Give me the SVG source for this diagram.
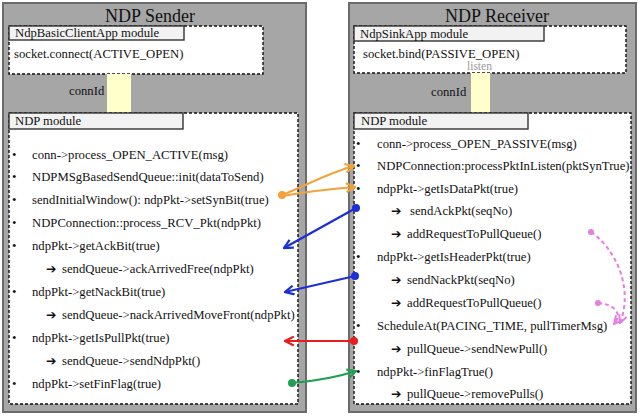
<svg xmlns="http://www.w3.org/2000/svg" width="640" height="419" viewBox="0 0 640 419">
<style>
.panel{fill:#a6a6a6;stroke:#6b6b6b;stroke-width:2}
.box{fill:#ffffff;stroke:#111;stroke-width:1.4;stroke-dasharray:3,2}
.tab{fill:#f2f2f2;stroke:#333;stroke-width:1.4}
.bar{fill:#ffffcc}
.t{font-family:"Liberation Serif","Times New Roman",serif;font-size:12.7px;fill:#111}
.h{font-family:"Liberation Serif","Times New Roman",serif;font-size:18px;fill:#111}
.ls{font-family:"Liberation Serif","Times New Roman",serif;font-size:11.5px;fill:#999}
.ar{font-family:"DejaVu Sans",sans-serif;font-size:12.5px;font-weight:bold;fill:#111}
.c{fill:none;stroke-width:2.2}
.pk{fill:none;stroke:#e57ee5;stroke-width:2;stroke-dasharray:4,3}
</style>
<defs>
<marker id="aO" viewBox="0 0 10 10" refX="9" refY="5" markerWidth="5" markerHeight="5" orient="auto" markerUnits="strokeWidth"><path d="M1,1 L9,5 L1,9" fill="none" stroke="#f2a23a" stroke-width="2"/></marker>
<marker id="aB" viewBox="0 0 10 10" refX="9" refY="5" markerWidth="5" markerHeight="5" orient="auto" markerUnits="strokeWidth"><path d="M1,1 L9,5 L1,9" fill="none" stroke="#1c2fd6" stroke-width="2"/></marker>
<marker id="aR" viewBox="0 0 10 10" refX="9" refY="5" markerWidth="5" markerHeight="5" orient="auto" markerUnits="strokeWidth"><path d="M1,1 L9,5 L1,9" fill="none" stroke="#ea1c1c" stroke-width="2"/></marker>
<marker id="aG" viewBox="0 0 10 10" refX="9" refY="5" markerWidth="5" markerHeight="5" orient="auto" markerUnits="strokeWidth"><path d="M1,1 L9,5 L1,9" fill="none" stroke="#1fa052" stroke-width="2"/></marker>
<marker id="aP" viewBox="0 0 10 10" refX="9" refY="5" markerWidth="5" markerHeight="5" orient="auto" markerUnits="strokeWidth"><path d="M1,1 L9,5 L1,9" fill="none" stroke="#e57ee5" stroke-width="2"/></marker>
</defs>

<g id="sender">
<rect class="panel" x="3" y="3" width="303" height="409"/>
<text class="h" x="150" y="22" text-anchor="middle">NDP Sender</text>
</g>
<g id="receiver">
<rect class="panel" x="349" y="3" width="287" height="409"/>
<text class="h" x="497" y="22" text-anchor="middle">NDP Receiver</text>
</g>

<g id="sender-app">
<rect class="box" x="9" y="26" width="254" height="48"/>
<rect class="tab" x="9" y="26" width="175" height="14"/>
<text class="t" x="15" y="37">NdpBasicClientApp module</text>
<text class="t" x="14" y="58">socket.connect(ACTIVE_OPEN)</text>
</g>
<g id="receiver-app">
<rect class="box" x="354" y="26" width="272" height="47"/>
<rect class="tab" x="354" y="26" width="190" height="15"/>
<text class="t" x="360" y="38">NdpSinkApp module</text>
<text class="t" x="363" y="58">socket.bind(PASSIVE_OPEN)</text>
<text class="ls" x="467" y="70">listen</text>
</g>

<g id="sender-connid">
<rect class="bar" x="107" y="74" width="24" height="39"/>
<text class="t" x="69" y="95">connId</text>
</g>
<g id="receiver-connid">
<rect class="bar" x="471" y="73" width="19" height="40"/>
<text class="t" x="431" y="96">connId</text>
</g>

<g id="sender-ndp">
<rect class="box" x="9" y="113" width="289" height="291"/>
<rect class="tab" x="9" y="113" width="174" height="16"/>
<text class="t" x="15" y="125">NDP module</text>
<text class="t" x="12" y="159">•</text><text class="t" x="32" y="159">conn-&gt;process_OPEN_ACTIVE(msg)</text>
<text class="t" x="12" y="181">•</text><text class="t" x="32" y="181">NDPMSgBasedSendQueue::init(dataToSend)</text>
<text class="t" x="12" y="204">•</text><text class="t" x="32" y="204">sendInitialWindow(): ndpPkt-&gt;setSynBit(true)</text>
<text class="t" x="12" y="227">•</text><text class="t" x="32" y="227">NDPConnection::process_RCV_Pkt(ndpPkt)</text>
<text class="t" x="12" y="250">•</text><text class="t" x="32" y="250">ndpPkt-&gt;getAckBit(true)</text>
<text class="ar" x="46" y="273">➔</text><text class="t" x="62" y="273">sendQueue-&gt;ackArrivedFree(ndpPkt)</text>
<text class="t" x="12" y="296">•</text><text class="t" x="32" y="296">ndpPkt-&gt;getNackBit(true)</text>
<text class="ar" x="46" y="319">➔</text><text class="t" x="62" y="319">sendQueue-&gt;nackArrivedMoveFront(ndpPkt)</text>
<text class="t" x="12" y="342">•</text><text class="t" x="32" y="342">ndpPkt-&gt;getIsPullPkt(true)</text>
<text class="ar" x="46" y="365">➔</text><text class="t" x="62" y="365">sendQueue-&gt;sendNdpPkt()</text>
<text class="t" x="12" y="388">•</text><text class="t" x="32" y="388">ndpPkt-&gt;setFinFlag(true)</text>
</g>

<g id="receiver-ndp">
<rect class="box" x="354" y="113" width="277" height="291"/>
<rect class="tab" x="354" y="113" width="174" height="16"/>
<text class="t" x="361" y="125">NDP module</text>
<text class="t" x="356" y="148">•</text><text class="t" x="377" y="148">conn-&gt;process_OPEN_PASSIVE(msg)</text>
<text class="t" x="356" y="170">•</text><text class="t" x="377" y="170">NDPConnection:processPktInListen(pktSynTrue)</text>
<text class="t" x="356" y="193">•</text><text class="t" x="377" y="193">ndpPkt-&gt;getIsDataPkt(true)</text>
<text class="ar" x="391" y="215">➔</text><text class="t" x="410" y="215">sendAckPkt(seqNo)</text>
<text class="ar" x="391" y="238">➔</text><text class="t" x="407" y="238">addRequestToPullQueue()</text>
<text class="t" x="356" y="261">•</text><text class="t" x="377" y="261">ndpPkt-&gt;getIsHeaderPkt(true)</text>
<text class="ar" x="391" y="284">➔</text><text class="t" x="407" y="284">sendNackPkt(seqNo)</text>
<text class="ar" x="391" y="307">➔</text><text class="t" x="407" y="307">addRequestToPullQueue()</text>
<text class="t" x="356" y="330">•</text><text class="t" x="377" y="330">ScheduleAt(PACING_TIME, pullTimerMsg)</text>
<text class="ar" x="391" y="353">➔</text><text class="t" x="407" y="353">pullQueue-&gt;sendNewPull()</text>
<text class="t" x="356" y="376">•</text><text class="t" x="377" y="376">ndpPkt-&gt;finFlagTrue()</text>
<text class="ar" x="391" y="398">➔</text><text class="t" x="407" y="398">pullQueue-&gt;removePulls()</text>
</g>

<g id="connectors">
<path class="c" stroke="#f2a23a" d="M282,195 C305,186 328,173 354,166" marker-end="url(#aO)"/>
<path class="c" stroke="#f2a23a" d="M282,196 C305,192 330,189 355,187" marker-end="url(#aO)"/>
<circle cx="282" cy="195" r="4" fill="#f2a23a"/>
<path class="c" stroke="#1c2fd6" d="M356,208 L284,248" marker-end="url(#aB)"/>
<circle cx="356" cy="208" r="4" fill="#1c2fd6"/>
<path class="c" stroke="#1c2fd6" d="M355,276 L285,292" marker-end="url(#aB)"/>
<circle cx="355" cy="276" r="4" fill="#1c2fd6"/>
<path class="c" stroke="#ea1c1c" d="M354,341 L285,341" marker-end="url(#aR)"/>
<circle cx="354" cy="341" r="4" fill="#ea1c1c"/>
<path class="c" stroke="#1fa052" d="M292,383 C315,381 335,378 356,371" marker-end="url(#aG)"/>
<circle cx="292" cy="383" r="4" fill="#1fa052"/>
<path class="pk" d="M591,232 C615,248 634,288 620,323" marker-end="url(#aP)"/>
<circle cx="591" cy="232" r="3" fill="#e57ee5"/>
<path class="pk" d="M598,303 C612,304 624,312 614,324" marker-end="url(#aP)"/>
<circle cx="598" cy="303" r="3" fill="#e57ee5"/>
</g>
</svg>
